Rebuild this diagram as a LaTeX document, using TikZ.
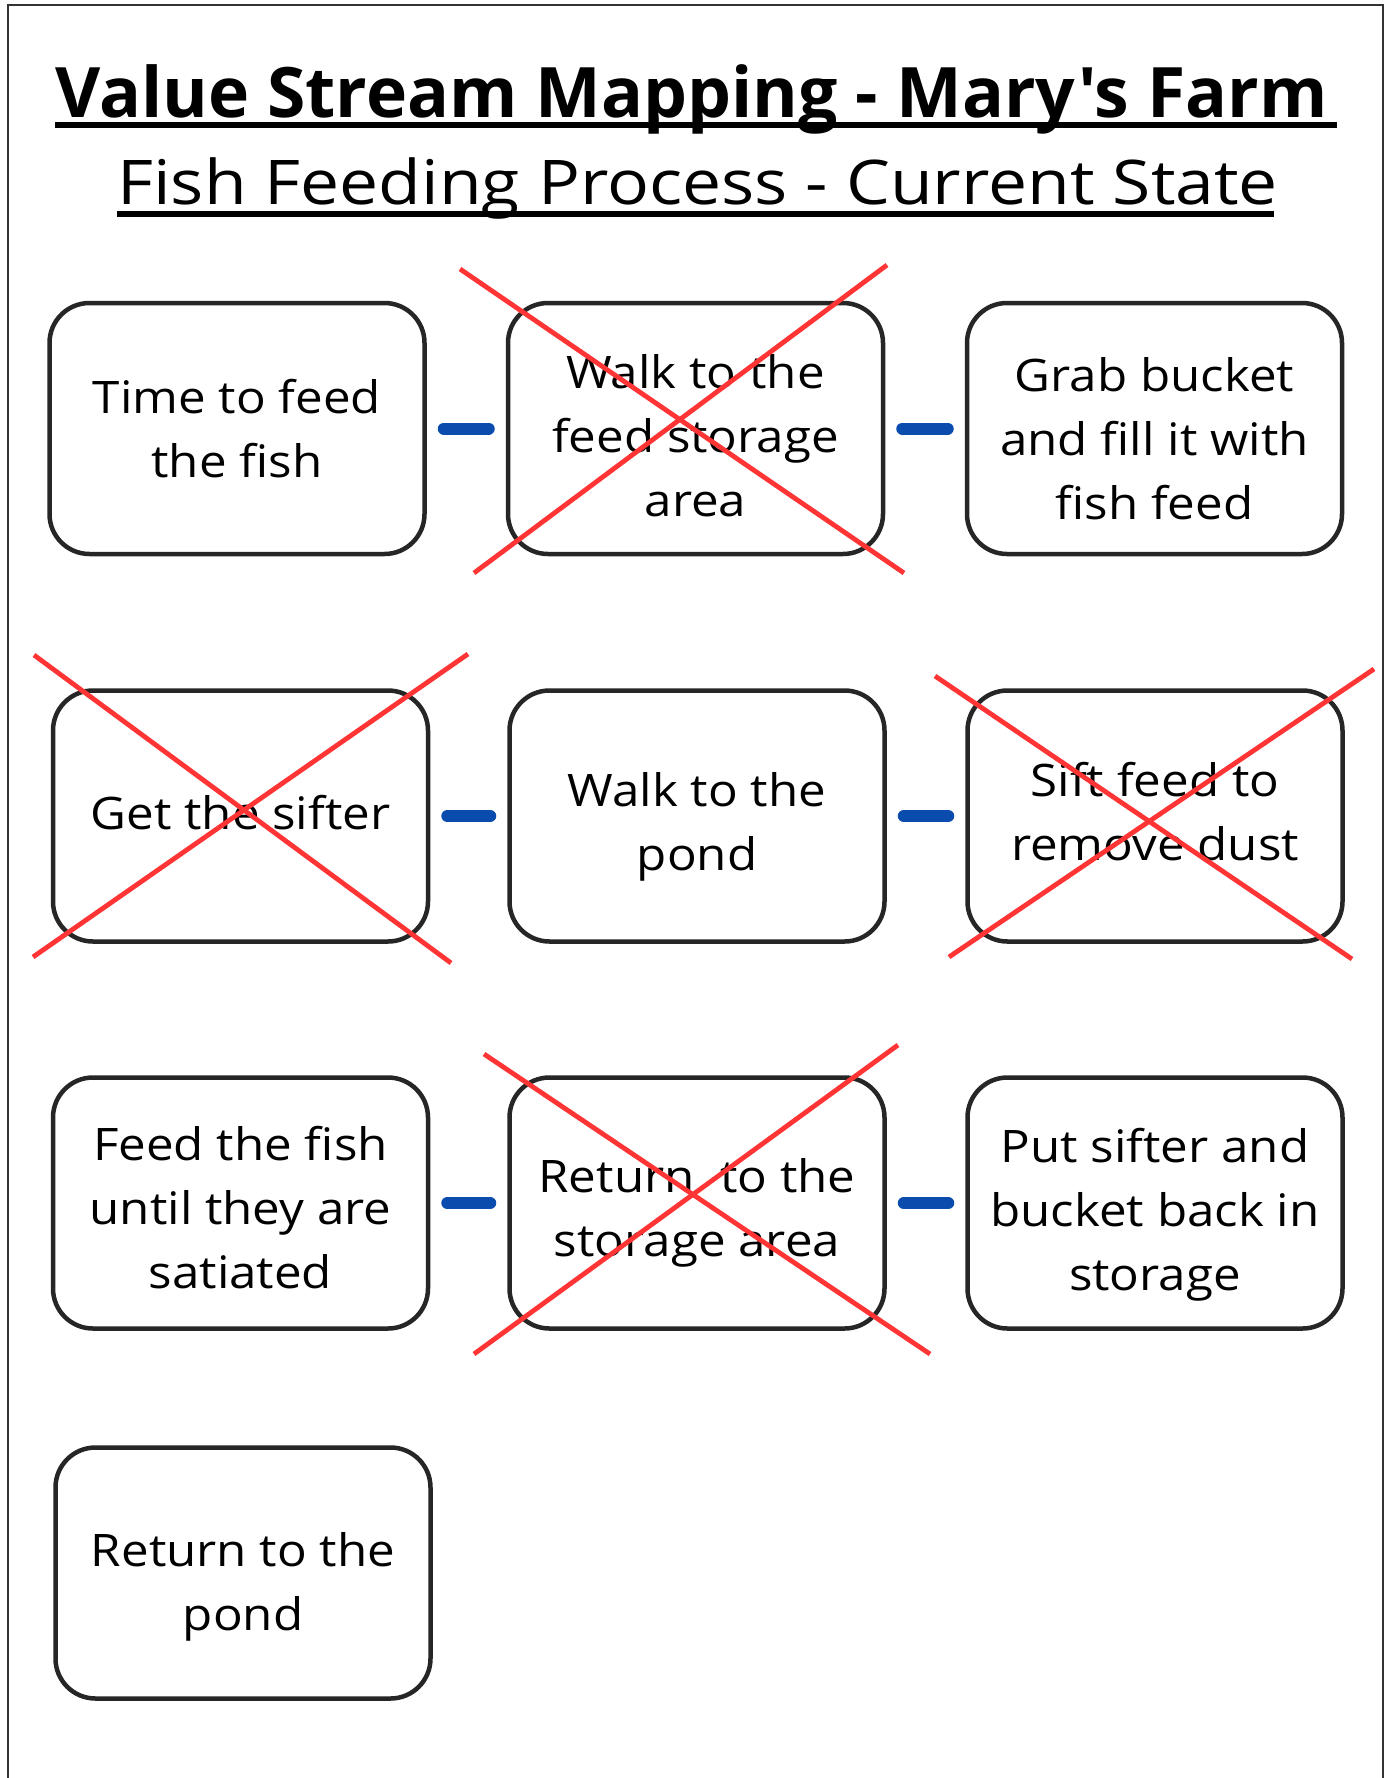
\documentclass[tikz,border=0pt]{standalone}
\usepackage{fontspec}
\setmainfont{Open Sans}[Ligatures=TeXOff]
\newfontfamily\bodyfont{Open Sans}[Ligatures=TeXOff, FakeStretch=1.1]
\newfontfamily\titlefont{Open Sans}[Ligatures=TeXOff]
\newfontfamily\subfont{Open Sans}[Ligatures=TeXOff, FakeStretch=1.13]
\definecolor{boxline}{HTML}{262626}
\definecolor{crossred}{HTML}{FF3535}
\definecolor{dashblue}{HTML}{0A4BAE}
% first-line height (pt) and text; fixes the vertical placement of the lines
\newcommand{\boxtext}[2]{\rule{0pt}{#1pt}#2\rule[-10pt]{0pt}{10pt}}
\begin{document}
\begin{tikzpicture}[x=0.5pt,y=-0.5pt,
  stepbox/.style={draw=boxline, line width=2.25pt, rounded corners=20pt,
    minimum width=187.5pt, minimum height=125.5pt, align=center,
    font=\bodyfont\fontsize{22.4}{32}\selectfont, inner sep=0pt},
  link/.style={draw=dashblue, line width=6pt, line cap=round,
    shorten <=8.5pt, shorten >=8.5pt},
  cross/.style={draw=crossred, line width=2.4pt},
  uline/.style={draw=black, line width=3pt}]
\useasboundingbox (0,0) rectangle (1389,1778);
\fill[white] (0,0) rectangle (1389,1778);
% page frame
\draw[line width=1pt, draw=black!80] (8,1778) -- (8,5) -- (1383,5) -- (1383,1778);
% titles
\node[anchor=base west, inner sep=0pt, font=\titlefont\fontsize{34.8}{40}\selectfont\bfseries] (title) at (55,117) {Value Stream Mapping - Mary's Farm};
\draw[uline] (55,125) -- (1337,125);
\node[anchor=base west, inner sep=0pt, font=\subfont\fontsize{30.8}{38}\selectfont] (sub) at (117,204) {Fish Feeding Process - Current State};
\draw[uline] (117,213.5) -- (1274,213.5);
% boxes
\node[stepbox] (n1) at (237,428.5) {\boxtext{26.5}{Time to feed\\the fish}};
\node[stepbox] (n2) at (695.5,428.5) {\boxtext{33.5}{Walk to the\\feed storage\\area}};
\node[stepbox] (n3) at (1154.5,428.5) {\boxtext{37}{Grab bucket\\and fill it with\\fish feed}};
\node[stepbox] (n4) at (240.5,816) {\boxtext{23}{Get the sifter}};
\node[stepbox] (n5) at (697,816) {\boxtext{32.7}{Walk to the\\pond}};
\node[stepbox] (n6) at (1155,816) {\boxtext{22.7}{Sift feed to\\remove dust}};
\node[stepbox] (n7) at (240.5,1203) {\boxtext{31.7}{Feed the fish\\until they are\\satiated}};
\node[stepbox] (n8) at (697,1203) {\boxtext{31.7}{Return~ to the\\storage area}};
\node[stepbox] (n9) at (1155,1203) {\boxtext{33.7}{Put sifter and\\bucket back in\\storage}};
\node[stepbox] (n10) at (243,1573) {\boxtext{35}{Return to the\\pond}};
% connectors
\draw[link] (n1.east) -- (n2.west);
\draw[link] (n2.east) -- (n3.west);
\draw[link] (n4.east) -- (n5.west);
\draw[link] (n5.east) -- (n6.west);
\draw[link] (n7.east) -- (n8.west);
\draw[link] (n8.east) -- (n9.west);
% crosses
\draw[cross] (460,269) -- (904,573);
\draw[cross] (474,573) -- (887,265);
\draw[cross] (34,655) -- (451,963);
\draw[cross] (33,957) -- (468,654);
\draw[cross] (935,676) -- (1352,959);
\draw[cross] (949,957) -- (1374,669);
\draw[cross] (484,1054) -- (930,1354);
\draw[cross] (474,1354) -- (898,1045);
\end{tikzpicture}
\end{document}
